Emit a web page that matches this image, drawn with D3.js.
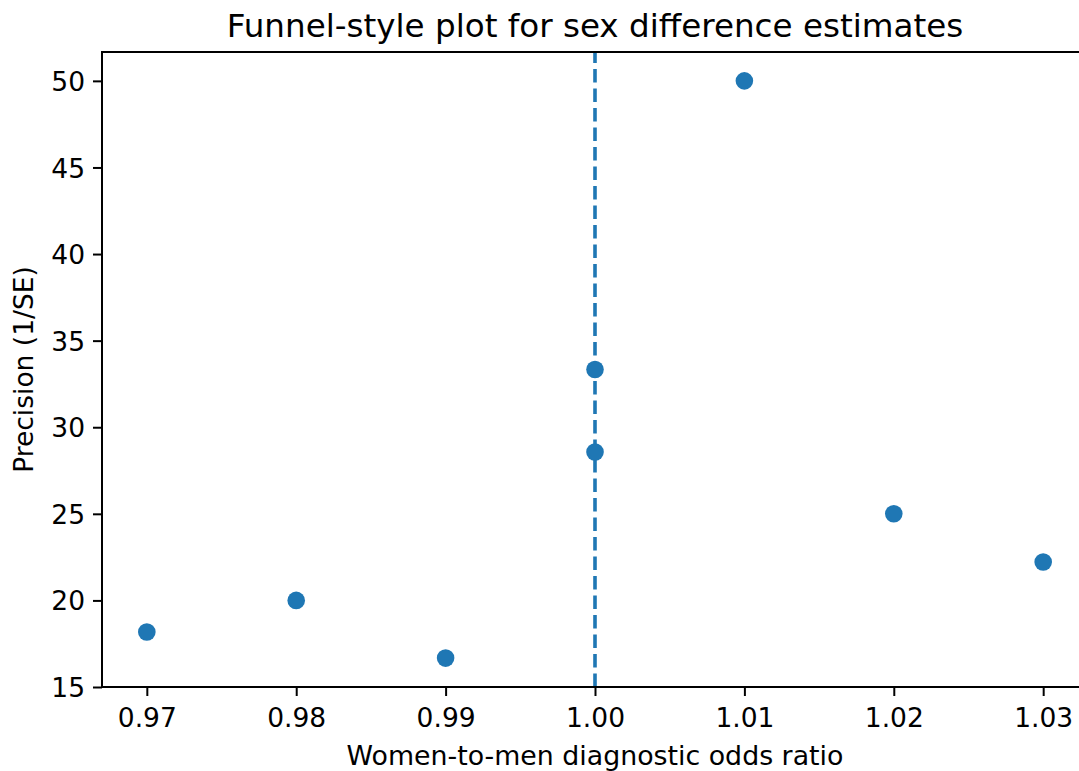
<!DOCTYPE html>
<html><head><meta charset="utf-8">
<script src="https://cdn.jsdelivr.net/npm/d3@7"></script>
<style>body{margin:0;background:#fff;} svg{display:block;} text{font-family:"DejaVu Sans",sans-serif;fill:#000;}</style>
</head><body>
<svg id="c" width="1079" height="771"></svg>
<script>
const oddsRatio = [0.97, 0.98, 0.99, 1.00, 1.00, 1.01, 1.02, 1.03];
const precision = [18.18, 20.0, 16.67, 33.33, 28.57, 50.0, 25.0, 22.22];
const xTicks = [0.97, 0.98, 0.99, 1.00, 1.01, 1.02, 1.03];
const yTicks = [15, 20, 25, 30, 35, 40, 45, 50];
const refLine = 1.00;

const svg = d3.select("#c");
const L = 102, R = 1088, T = 52, B = 687;
const x = d3.scaleLinear().domain([0.967, 1.033]).range([L, R]);
const y = d3.scaleLinear().domain([15, 51.667]).range([B, T]);
const blue = "#1f77b4";

// axes
const xAxis = d3.axisBottom(x).tickValues(xTicks).tickFormat(d3.format(".2f")).tickSize(9);
const gx = svg.append("g").attr("transform", `translate(0,${B})`).call(xAxis);
gx.selectAll(".tick text").attr("y", 40).attr("dy", 0);
const yAxis = d3.axisLeft(y).tickValues(yTicks).tickFormat(d3.format("d")).tickSize(9);
const gy = svg.append("g").attr("transform", `translate(${L},0)`).call(yAxis);
gy.selectAll(".tick text").attr("x", -17).attr("dy", "0.36em");
[gx, gy].forEach(g => {
  g.select(".domain").remove();
  g.selectAll(".tick line").attr("stroke", "#000").attr("stroke-width", 2);
  g.selectAll(".tick text").attr("font-size", 26.5).attr("font-family", "DejaVu Sans").attr("fill", "#000");
});

// reference line
svg.append("line")
  .attr("x1", x(refLine)).attr("x2", x(refLine)).attr("y1", y(15)).attr("y2", y(51.667))
  .attr("stroke", blue).attr("stroke-width", 3.6).attr("stroke-dasharray", "13.5,6");

// points
svg.append("g").selectAll("circle").data(oddsRatio.map((d, i) => [d, precision[i]]))
  .join("circle")
  .attr("cx", d => x(d[0])).attr("cy", d => y(d[1])).attr("r", 8.8).attr("fill", blue);

// spines
svg.append("rect").attr("x", L).attr("y", T).attr("width", R - L).attr("height", B - T)
  .attr("fill", "none").attr("stroke", "#000").attr("stroke-width", 2);

// labels
svg.append("text").attr("x", (L + R) / 2).attr("y", 37).attr("text-anchor", "middle")
  .attr("font-size", 32.6).text("Funnel-style plot for sex difference estimates");
svg.append("text").attr("x", (L + R) / 2).attr("y", 765).attr("text-anchor", "middle")
  .attr("font-size", 26.8).text("Women-to-men diagnostic odds ratio");
svg.append("text").attr("transform", `translate(33,${(T + B) / 2}) rotate(-90)`).attr("text-anchor", "middle")
  .attr("font-size", 26.5).text("Precision (1/SE)");
</script>
</body></html>
